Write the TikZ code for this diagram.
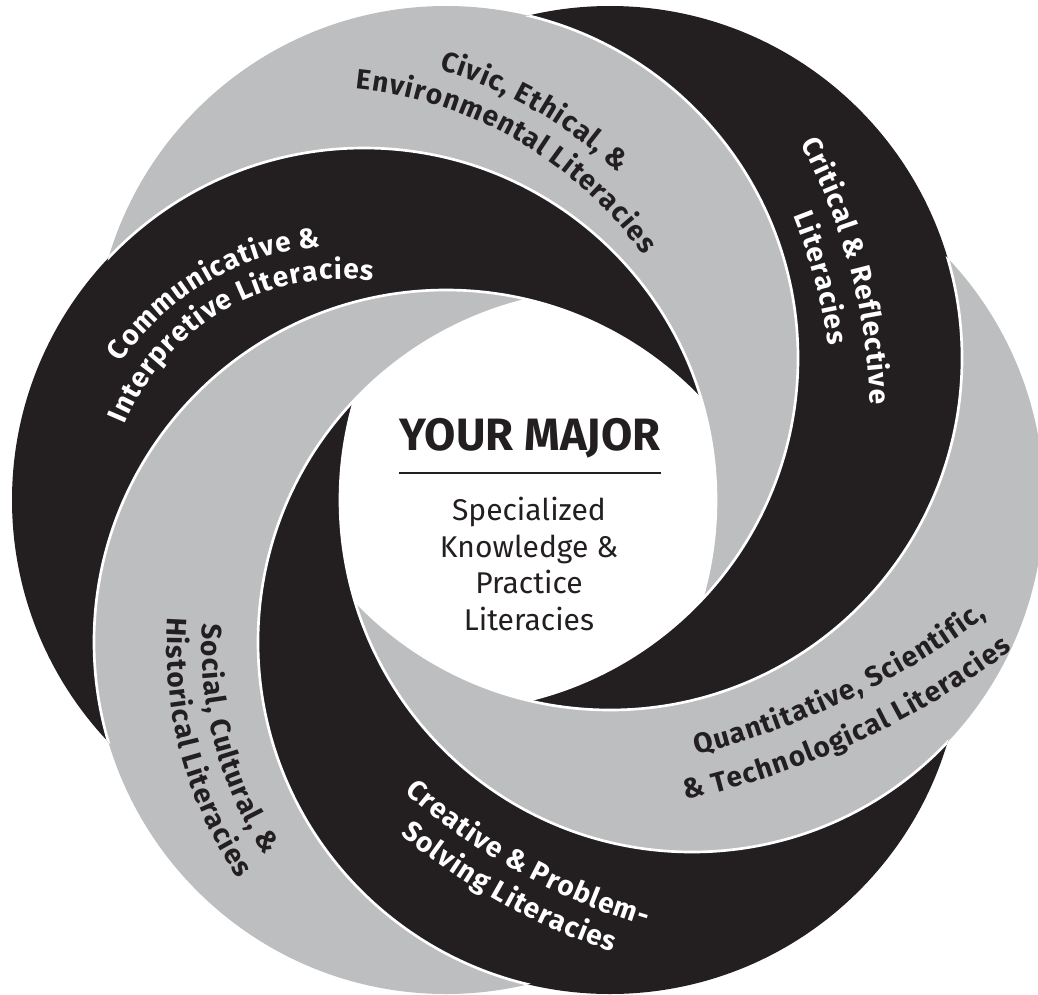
\documentclass[tikz,border=0pt]{standalone}
\usepackage{fontspec}
\setmainfont{Fira Sans}
\usetikzlibrary{calc}
\definecolor{ink}{HTML}{231F20}
\definecolor{band}{HTML}{BCBEC0}
\newcommand\labfont{\fontsize{21}{25}\selectfont\bfseries}
\makeatletter
\newdimen\arc@total
\newdimen\arc@pos
\newdimen\arc@space
\newdimen\arc@w
\newdimen\arc@track
\arc@track=0.8pt
\newcount\arc@n
\def\arc@end{\arc@end@}
\def\arc@box#1{\setbox0\hbox{\pgfinterruptpicture\normalfont\labfont#1\endpgfinterruptpicture}}
% #1 centre, #2 baseline radius (px), #3 mid angle, #4 direction (1 clockwise, -1 anticlockwise), #5 colour, #6 text (/ = space)
\newcommand\arclabel[6]{%
  \def\arc@c{#1}\def\arc@r{#2}\def\arc@m{#3}\def\arc@d{#4}\def\arc@col{#5}%
  \arc@box{\ }\arc@space=\wd0\relax
  \arc@total=0pt\relax
  \arc@measure#6\arc@end
  \advance\arc@total-\arc@track
  \arc@pos=0pt\relax
  \arc@place#6\arc@end}
\def\arc@measure#1{%
  \ifx#1\arc@end
  \else
    \ifx#1/\advance\arc@total\arc@space
    \else\arc@box{#1}\advance\arc@total\wd0\relax\advance\arc@total\arc@track
    \fi
    \expandafter\arc@measure
  \fi}
\def\arc@place#1{%
  \ifx#1\arc@end
  \else
    \ifx#1/\advance\arc@pos\arc@space
    \else
      \arc@box{#1}\arc@w=\wd0\relax
      \pgfmathsetmacro\arc@ang{\arc@m+(\arc@d)*(\the\arc@pos+0.5*\the\arc@w-0.5*\the\arc@total)/(\arc@r*0.75)*57.2958}%
      \pgfmathsetmacro\arc@rot{-1*(\arc@ang)-90*(\arc@d)}%
      \global\advance\arc@n by 1
      \node[name=lab\the\arc@n, rotate=\arc@rot, anchor=base, inner sep=0pt, text=\arc@col, font=\labfont] at ($(\arc@c)+(\arc@ang:\arc@r)$) {#1};%
      \advance\arc@pos\arc@w
      \advance\arc@pos\arc@track
    \fi
    \expandafter\arc@place
  \fi}
\makeatother
\begin{document}
\begin{tikzpicture}[x=0.75pt,y=-0.75pt]
\useasboundingbox (0,0) rectangle (1038,995);
\clip (0,0) rectangle (1038,995);
\def\R{352}
\coordinate (c1) at (610,358); % Critical
\coordinate (c2) at (446,358); % Civic
\coordinate (c3) at (364,500); % Communicative
\coordinate (c4) at (446,642); % Social
\coordinate (c5) at (610,642); % Creative
\coordinate (c6) at (692,500); % Quantitative
% crescents: disc a minus disc b
\foreach \a/\b/\col in {c1/c2/ink, c2/c3/band, c3/c4/ink, c4/c5/band, c5/c6/ink, c6/c1/band}{
  \begin{scope}
    \clip (\a) circle[radius=\R];
    \fill[\col, even odd rule] (-20,-20) rectangle (1060,1020) (\b) circle[radius=\R];
  \end{scope}
}
% white separators
\foreach \a/\b in {c1/c2, c2/c3, c3/c4, c4/c5, c5/c6, c6/c1}{
  \begin{scope}
    \clip (\a) circle[radius=\R];
    \draw[white, line width=2pt] (\b) circle[radius=\R];
  \end{scope}
}
% label centres
\coordinate (tciv) at (316,490);
\coordinate (tcri) at (268,426);
\coordinate (tcom) at (342,514);
\coordinate (tsoc) at (580,647);
\coordinate (tcre) at (830,310);
\coordinate (tqua) at (502,-30);
\arclabel{tciv}{438}{-60}{1}{ink}{Civic,/Ethical,/\&}
\arclabel{tciv}{403}{-60}{1}{ink}{Environmental/Literacies}
\arclabel{tcri}{603}{-15}{1}{white}{Critical/\&/Reflective}
\arclabel{tcri}{566}{-15}{1}{white}{Literacies}
\arclabel{tcom}{268}{240}{1}{white}{Communicative/\&}
\arclabel{tcom}{235}{240}{1}{white}{Interpretive/Literacies}
\arclabel{tsoc}{378}{165}{-1}{ink}{Social,/Cultural,/\&}
\arclabel{tsoc}{413}{165}{-1}{ink}{Historical/Literacies}
\arclabel{tcre}{643}{119}{-1}{white}{Creative/\&/Problem-}
\arclabel{tcre}{678}{119}{-1}{white}{Solving/Literacies}
\arclabel{tqua}{808}{64.6}{-1}{ink}{Quantitative,/Scientific,}
\arclabel{tqua}{850}{65.3}{-1}{ink}{\&/Technological/Literacies}
% centre
\node[anchor=base, inner sep=0pt, text=ink, font=\fontsize{34}{40}\selectfont\bfseries] (major) at (530,450) {YOUR MAJOR};
\coordinate (ruleL) at (399,473);
\coordinate (ruleR) at (661,473);
\draw[ink, line width=1.5pt] (ruleL) -- (ruleR);
\node[anchor=center, inner sep=0pt, align=center, text=ink, font=\fontsize{22.5}{27.5}\selectfont] (spec) at (529,564) {Specialized\\Knowledge \&\\Practice\\Literacies};
\end{tikzpicture}
\end{document}
